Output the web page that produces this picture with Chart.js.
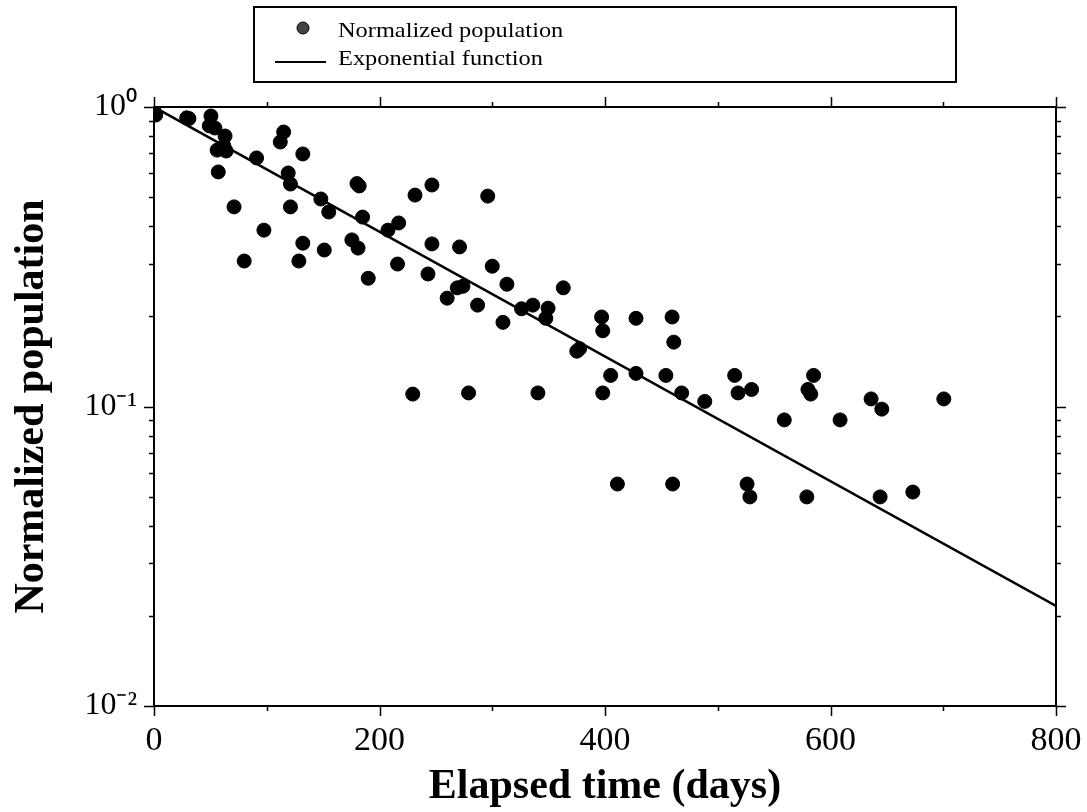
<!DOCTYPE html>
<html>
<head>
<meta charset="utf-8">
<script src="https://cdn.jsdelivr.net/npm/chart.js@4/dist/chart.umd.min.js"></script>
<style>
html,body{margin:0;padding:0;background:#fff;}
canvas{display:block;}
</style>
</head>
<body>
<canvas id="c" width="1087" height="812"></canvas>
<script>
// ---- data ----
const elapsedDays = [
  0, 1.5, 29, 31, 50.5, 49, 54, 63, 56, 62,
  64, 57, 71, 80, 91, 97.5, 112, 115, 132, 119,
  121, 121, 132, 128.5, 148, 155, 151, 180, 182, 185,
  175.5, 181, 190, 216, 207.5, 217, 231.5, 246.5, 246.5, 243,
  271, 260, 269, 274, 296, 300, 287, 313, 309.5, 326,
  336, 349.5, 347.5, 363, 397, 398, 427.5, 459.5, 461, 375,
  377.5, 405, 427.5, 454, 468, 488.5, 515, 518, 530, 279,
  340.5, 398, 229.5, 411, 460, 526, 528.5, 559, 585, 580,
  582.5, 608.5, 636, 645.5, 700.5, 579, 644, 673
];
const normalizedPopulation = [
  1.0, 0.94, 0.92, 0.915, 0.933, 0.865, 0.851, 0.80, 0.718, 0.741,
  0.713, 0.607, 0.464, 0.306, 0.676, 0.388, 0.764, 0.825, 0.697, 0.602,
  0.553, 0.464, 0.351, 0.306, 0.493, 0.446, 0.333, 0.555, 0.545, 0.429,
  0.36, 0.338, 0.268, 0.299, 0.388, 0.41, 0.508, 0.549, 0.349, 0.277,
  0.341, 0.230, 0.249, 0.252, 0.504, 0.294, 0.218, 0.256, 0.191, 0.212,
  0.218, 0.213, 0.197, 0.249, 0.199, 0.179, 0.197, 0.199, 0.164, 0.153,
  0.156, 0.127, 0.129, 0.127, 0.111, 0.104, 0.127, 0.111, 0.114, 0.111,
  0.111, 0.111, 0.110, 0.0551, 0.0551, 0.0551, 0.0499, 0.0902, 0.127, 0.114,
  0.110, 0.0902, 0.106, 0.098, 0.106, 0.0499, 0.0499, 0.0518
];
const fitDays = [0, 800];
const fitValues = [1.0, 0.0216];

const seriesLabels = ['Normalized population', 'Exponential function'];
const xMajorTicks = [0, 200, 400, 600, 800];
const yMajorTicks = [1, 0.1, 0.01];
const yMajorLabels = ['10\u2070', '10\u207B\u00B9', '10\u207B\u00B2'];

// ---- helpers ----
const SERIF = '"Liberation Serif", "Times New Roman", serif';
function yTickList() {
  const out = [];
  for (let e = -2; e < 0; e++) {
    for (let s = 1; s <= 9; s++) out.push(+(s * Math.pow(10, e)).toPrecision(3));
  }
  out.push(1);
  return out;
}
function isYMajor(v) { return yMajorTicks.some(m => Math.abs(m - v) < 1e-9); }

const framePlugin = {
  id: 'frame',
  afterDraw(chart) {
    const {ctx, chartArea: a, scales: {x, y}} = chart;
    ctx.save();
    ctx.strokeStyle = '#000';
    ctx.lineWidth = 2;
    ctx.strokeRect(a.left, a.top, a.right - a.left, a.bottom - a.top);
    ctx.lineWidth = 1.5;
    ctx.beginPath();
    x.ticks.forEach(t => {
      const px = Math.round(x.getPixelForValue(t.value)) + 0.5;
      const len = xMajorTicks.includes(t.value) ? 10 : 5;
      ctx.moveTo(px, a.bottom); ctx.lineTo(px, a.bottom + len);
      ctx.moveTo(px, a.top); ctx.lineTo(px, a.top - len);
    });
    y.ticks.forEach(t => {
      const py = Math.round(y.getPixelForValue(t.value)) + 0.5;
      const len = isYMajor(t.value) ? 10 : 5;
      ctx.moveTo(a.left, py); ctx.lineTo(a.left - len, py);
      ctx.moveTo(a.right, py); ctx.lineTo(a.right + len, py);
    });
    ctx.stroke();
    ctx.restore();
  }
};

const legendPlugin = {
  id: 'boxLegend',
  afterDraw(chart) {
    const ctx = chart.ctx;
    const ds = chart.data.datasets;
    ctx.save();
    ctx.strokeStyle = '#000';
    ctx.lineWidth = 2;
    ctx.strokeRect(254, 7, 702, 75);
    // marker row
    ctx.beginPath();
    ctx.arc(303, 28, 6, 0, Math.PI * 2);
    ctx.fillStyle = '#444';
    ctx.fill();
    ctx.lineWidth = 1;
    ctx.strokeStyle = '#000';
    ctx.stroke();
    // line row
    ctx.beginPath();
    ctx.lineWidth = 2;
    ctx.moveTo(275, 62); ctx.lineTo(326, 62);
    ctx.stroke();
    ctx.fillStyle = '#000';
    ctx.font = '21px ' + SERIF;
    ctx.textBaseline = 'alphabetic';
    ctx.textAlign = 'left';
    ctx.save();
    ctx.translate(338, 37); ctx.scale(1.16, 1);
    ctx.fillText(ds[0].label, 0, 0);
    ctx.restore();
    ctx.save();
    ctx.translate(338, 65); ctx.scale(1.16, 1);
    ctx.fillText(ds[1].label, 0, 0);
    ctx.restore();
    ctx.restore();
  }
};

const ctx = document.getElementById('c').getContext('2d');
new Chart(ctx, {
  type: 'scatter',
  data: {
    datasets: [
      {
        label: seriesLabels[0],
        data: elapsedDays.map((d, i) => ({x: d, y: normalizedPopulation[i]})),
        pointRadius: 7,
        pointBorderWidth: 1,
        pointBackgroundColor: '#000',
        pointBorderColor: '#000',
        showLine: false
      },
      {
        type: 'line',
        label: seriesLabels[1],
        data: fitDays.map((d, i) => ({x: d, y: fitValues[i]})),
        borderColor: '#000',
        borderWidth: 2.5,
        pointRadius: 0,
        fill: false,
        tension: 0
      }
    ]
  },
  options: {
    responsive: false,
    animation: false,
    layout: {padding: {top: 107, right: 31, left: 0, bottom: 0}},
    plugins: {legend: {display: false}, tooltip: {enabled: false}},
    scales: {
      x: {
        type: 'linear',
        min: 0, max: 800,
        afterFit(s) { s.height = 106; s.paddingLeft = 0; s.paddingRight = 0; },
        grid: {display: false, drawTicks: false},
        border: {display: false},
        ticks: {
          stepSize: 100, autoSkip: false, maxRotation: 0, padding: 15,
          color: '#000',
          font: {family: SERIF, size: 34},
          callback: v => xMajorTicks.includes(v) ? String(v) : ''
        },
        title: {
          display: true, text: 'Elapsed time (days)', color: '#000',
          font: {family: SERIF, size: 42, weight: 'bold'},
          padding: {top: 0, bottom: 0}
        }
      },
      y: {
        type: 'logarithmic',
        min: 0.01, max: 1,
        afterFit(s) { s.width = 154; s.paddingTop = 0; s.paddingBottom = 0; },
        afterBuildTicks(s) { s.ticks = yTickList().map(v => ({value: v})); },
        grid: {display: false, drawTicks: false},
        border: {display: false},
        ticks: {
          autoSkip: false, padding: 17,
          color: '#000',
          font: {family: SERIF, size: 32},
          callback: v => {
            const i = yMajorTicks.findIndex(m => Math.abs(m - v) < 1e-9);
            return i >= 0 ? yMajorLabels[i] : '';
          }
        },
        title: {
          display: true, text: 'Normalized population', color: '#000',
          font: {family: SERIF, size: 42, weight: 'bold'},
          padding: {top: 7, bottom: 0}
        }
      }
    }
  },
  plugins: [framePlugin, legendPlugin]
});
</script>
</body>
</html>
